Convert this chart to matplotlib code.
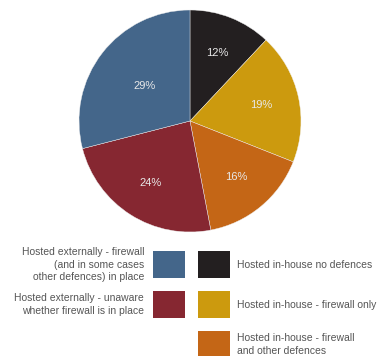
import matplotlib
matplotlib.use("Agg")
import matplotlib.pyplot as plt
from matplotlib.patches import Rectangle

plt.rcParams['font.family'] = ['Liberation Sans', 'DejaVu Sans']

#---------------------DATA------------------------
labels = ['Hosted in-house no defences',
          'Hosted in-house - firewall only',
          'Hosted in-house - firewall\nand other defences',
          'Hosted externally - unaware\nwhether firewall is in place',
          'Hosted externally - firewall\n(and in some cases\nother defences) in place']
shares = [12, 19, 16, 24, 29]
colors = ['#231f20', '#cc9a0e', '#c46616', '#862731', '#44668a']
#-------------------------------------------------

fig = plt.figure(figsize=(3.85, 3.56), dpi=100)

# pie
ax = fig.add_axes([79/385., 1-232/356., 222/385., 222/356.])
wedges, texts, autotexts = ax.pie(shares, colors=colors, startangle=90, counterclock=False,
                                  autopct='%d%%', pctdistance=0.66,
                                  wedgeprops=dict(edgecolor='#f0f0f0', linewidth=0.3),
                                  textprops=dict(color='#e8e8e8', size=8))
# the big slice has its label pulled in a bit
x, y = autotexts[4].get_position()
autotexts[4].set_position((x*0.78, y*0.78))
ax.set_xlim(-1, 1)
ax.set_ylim(-1, 1)
ax.set_aspect('equal')

# legend, laid out in pixels
lg = fig.add_axes([0, 0, 1, 1])
lg.set_xlim(0, 385)
lg.set_ylim(356, 0)
lg.axis('off')

left = [(4, 264.5), (3, 304.5)]
right = [(0, 264.5), (1, 304.5), (2, 344.5)]
for i, yc in left:
    lg.add_patch(Rectangle((153, yc-13.5), 32, 27, color=colors[i], lw=0))
    lg.text(144, yc, labels[i], ha='right', va='center', size=7.5, color='#555555',
            multialignment='right', linespacing=1.3)
for i, yc in right:
    lg.add_patch(Rectangle((198, yc-13.5), 32, 27, color=colors[i], lw=0))
    lg.text(237, yc, labels[i], ha='left', va='center', size=7.5, color='#555555',
            linespacing=1.3)

fig.savefig('out.png', dpi=100)
